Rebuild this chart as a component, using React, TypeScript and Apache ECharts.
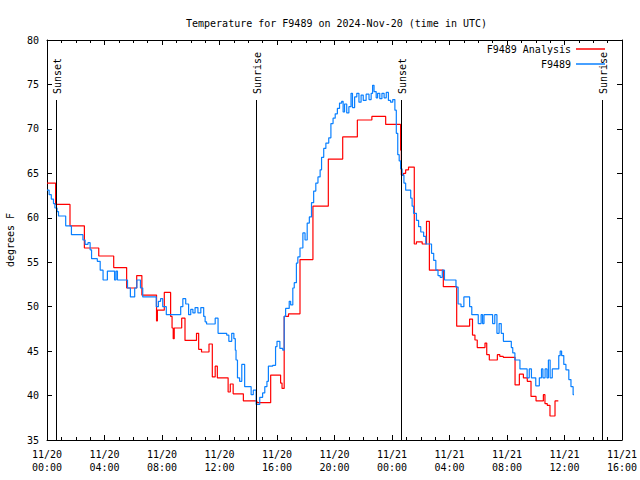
import React, { useEffect, useRef } from "react";
import * as echarts from "echarts";

// hours since 2024-11-20 00:00 UTC, temperature (F)
const analysisHours = [0, 0.6, 1.6, 2.6, 3.6, 4.64, 5.54, 6.24, 6.6, 7.62, 7.68, 8.16, 8.6, 8.7, 8.78, 8.85, 9.37, 9.6, 10.4, 10.55, 10.75, 11.27, 11.5, 11.7, 11.85, 12.6, 12.75, 12.95, 13.66, 14.6, 15.56, 16.25, 16.35, 16.5, 16.8, 17.6, 18.5, 19.57, 20.57, 21.59, 22.6, 23.56, 24.6, 24.65, 24.8, 24.95, 25.15, 25.55, 25.7, 26.1, 26.4, 26.6, 27.57, 28.5, 29.4, 29.6, 29.77, 29.93, 30.47, 30.59, 30.77, 31.33, 31.5, 31.74, 32.56, 32.86, 33.14, 33.41, 33.67, 34.02, 34.53, 34.64, 34.8, 34.99, 35.34, 35.57];
const analysisTemps = [63.9, 61.5, 59.1, 56.6, 55.7, 54.4, 52.1, 53.5, 51.3, 48.4, 49.6, 51.6, 48.9, 47.6, 46.4, 47.6, 48.7, 46.2, 47.0, 45.2, 44.9, 45.8, 42.1, 43.3, 42.0, 40.4, 41.3, 40.2, 39.4, 39.2, 42.3, 41.4, 40.8, 48.9, 49.2, 55.3, 61.3, 66.6, 69.1, 71.0, 71.4, 70.5, 67.6, 64.8, 65.0, 65.4, 65.7, 57.05, 57.3, 57.05, 59.6, 54.1, 52.25, 47.8, 48.6, 46.8, 46.25, 45.4, 45.9, 44.6, 44.0, 44.6, 44.4, 44.3, 41.2, 42.4, 42.0, 41.6, 39.9, 39.4, 40.1, 39.1, 38.9, 37.7, 39.4, 39.4];

const obsHours = [0, 0.15, 0.3, 0.45, 0.55, 0.7, 0.8, 1.3, 1.7, 2.5, 2.65, 2.85, 3.0, 3.1, 3.5, 3.7, 3.9, 4.2, 4.7, 4.8, 4.9, 5.6, 5.8, 6.1, 6.25, 6.5, 6.66, 7.6, 7.75, 7.9, 8.05, 8.3, 9.3, 9.45, 9.65, 9.85, 10.0, 10.15, 10.3, 10.5, 10.7, 10.9, 11.0, 11.1, 11.7, 11.9, 12.5, 12.65, 12.85, 13.0, 13.1, 13.15, 13.25, 13.4, 13.55, 13.75, 14.2, 14.35, 14.55, 14.8, 15.0, 15.15, 15.3, 15.4, 15.7, 15.9, 16.0, 16.2, 16.4, 16.5, 16.6, 16.85, 16.95, 17.1, 17.2, 17.35, 17.45, 17.6, 17.8, 17.95, 18.1, 18.25, 18.4, 18.55, 18.7, 18.85, 19.0, 19.1, 19.25, 19.4, 19.6, 19.75, 19.9, 20.05, 20.2, 20.35, 20.5, 20.6, 20.7, 20.85, 21.0, 21.15, 21.25, 21.4, 21.55, 21.7, 21.85, 22.0, 22.2, 22.4, 22.55, 22.65, 22.75, 22.9, 23.0, 23.15, 23.3, 23.45, 23.6, 23.75, 23.9, 24.05, 24.2, 24.3, 24.4, 24.5, 24.6, 24.7, 24.83, 24.95, 25.3, 25.4, 25.5, 25.7, 25.85, 26.0, 26.2, 26.35, 26.75, 26.9, 27.05, 27.2, 27.35, 27.5, 27.65, 28.45, 28.6, 28.8, 29.0, 29.4, 29.55, 30.0, 30.2, 30.3, 30.4, 31.0, 31.15, 31.3, 31.45, 31.6, 31.75, 32.3, 32.4, 32.55, 32.9, 33.4, 33.55, 33.7, 34.0, 34.25, 34.4, 34.5, 34.65, 34.78, 34.88, 35.0, 35.15, 35.6, 35.7, 35.8, 35.95, 36.1, 36.3, 36.45, 36.6, 36.66];
const obsTemps = [63.1, 62.6, 62.1, 61.6, 61.1, 60.7, 60.2, 59.1, 58.1, 57.5, 57.0, 57.2, 56.4, 55.4, 55.1, 54.1, 53.0, 54.0, 53.0, 54.0, 53.0, 52.1, 51.1, 52.1, 53.0, 52.1, 51.1, 50.0, 50.6, 50.9, 50.0, 49.1, 50.0, 50.9, 50.3, 49.1, 49.7, 49.3, 49.9, 49.3, 49.9, 48.9, 48.3, 48.05, 48.7, 47.0, 46.8, 46.1, 47.0, 46.4, 45.1, 44.0, 42.0, 41.6, 43.5, 41.0, 40.1, 40.6, 39.0, 39.8, 40.3, 41.0, 41.6, 43.3, 43.4, 45.5, 46.1, 45.3, 45.1, 48.9, 49.8, 50.6, 50.2, 52.1, 52.7, 54.9, 55.6, 56.6, 58.3, 57.5, 59.4, 60.1, 61.7, 63.0, 63.9, 64.6, 65.4, 66.8, 67.8, 68.4, 69.0, 70.6, 71.2, 71.7, 72.3, 72.9, 73.1, 71.9, 72.8, 71.8, 72.5, 74.0, 72.4, 73.6, 74.0, 73.0, 73.8, 73.2, 73.9, 73.3, 74.0, 74.9, 74.2, 73.5, 74.0, 73.4, 74.0, 73.5, 74.1, 73.2, 73.0, 73.3, 72.1, 69.5, 67.1, 66.4, 65.5, 64.8, 63.9, 63.1, 62.2, 61.3, 60.5, 59.7, 59.0, 58.4, 57.9, 57.05, 56.0, 55.2, 54.1, 53.5, 53.3, 54.1, 53.0, 52.2, 50.3, 50.0, 51.1, 50.0, 49.1, 48.1, 49.1, 48.1, 49.1, 48.1, 49.1, 47.0, 48.1, 47.0, 46.1, 45.4, 44.8, 44.0, 43.0, 42.0, 43.0, 42.0, 41.1, 42.0, 43.0, 42.0, 43.0, 42.0, 44.0, 42.0, 43.0, 44.5, 45.0, 44.5, 43.5, 42.9, 41.8, 41.0, 40.1, 40.1];

const sunHours = [0.63, 14.56, 24.63, 38.66];
const sunNames = ["Sunset", "Sunrise", "Sunset", "Sunrise"];
const SUN_TOP = 73.25;

const X_MIN = 0;
const X_MAX = 40;
const Y_MIN = 35;
const Y_MAX = 80;

const FONT = "DejaVu Sans Mono";

function fmtTime(v: number): string {
  const day = 20 + Math.floor(v / 24);
  const hr = Math.round(v % 24);
  return `11/${day}\n${String(hr).padStart(2, "0")}:00`;
}

export default function App() {
  const ref = useRef<HTMLDivElement>(null);
  useEffect(() => {
    if (!ref.current) return;
    const chart = echarts.init(ref.current, null, { renderer: "svg" });
    const analysis = analysisHours.map((h, i) => [h, analysisTemps[i]]);
    const obs = obsHours.map((h, i) => [h, obsTemps[i]]);
    const axisLine = { show: true, onZero: false, lineStyle: { color: "#000", width: 1 } };
    const xCommon = {
      type: "value" as const,
      min: X_MIN,
      max: X_MAX,
      interval: 4,
      axisLine,
      axisTick: { show: true, inside: true, length: 5, lineStyle: { color: "#000" } },
      minorTick: { show: true, splitNumber: 4, length: 3, lineStyle: { color: "#000" } },
      splitLine: { show: false },
      minorSplitLine: { show: false },
    };
    const yCommon = {
      type: "value" as const,
      min: Y_MIN,
      max: Y_MAX,
      interval: 5,
      axisLine,
      axisTick: { show: true, inside: true, length: 5, lineStyle: { color: "#000" } },
      splitLine: { show: false },
    };
    chart.setOption({
      animation: false,
      backgroundColor: "#fff",
      title: {
        text: "Temperature for F9489 on 2024-Nov-20 (time in UTC)",
        left: 181,
        top: 13,
        textStyle: { fontFamily: FONT, fontSize: 10, fontWeight: "normal", color: "#000" },
      },
      legend: {
        orient: "vertical",
        right: 30,
        top: 38,
        align: "right",
        icon: "rect",
        itemWidth: 29,
        itemHeight: 1.5,
        itemGap: 3,
        textStyle: { fontFamily: FONT, fontSize: 10, color: "#000", lineHeight: 12 },
        data: ["F9489 Analysis", "F9489"],
      },
      grid: { left: 47, right: 18, top: 40, bottom: 40, outerBoundsMode: "none", containLabel: false },
      xAxis: [
        {
          ...xCommon,
          position: "bottom",
          axisLabel: {
            show: true,
            fontFamily: FONT,
            fontSize: 10,
            color: "#000",
            lineHeight: 13,
            margin: 8,
            formatter: fmtTime,
          },
        },
        { ...xCommon, position: "top", axisLabel: { show: false } },
      ],
      yAxis: [
        {
          ...yCommon,
          position: "left",
          name: "degrees F",
          nameLocation: "middle",
          nameRotate: 90,
          nameGap: 32,
          nameTextStyle: { fontFamily: FONT, fontSize: 10, color: "#000" },
          axisLabel: { show: true, fontFamily: FONT, fontSize: 10, color: "#000", margin: 8 },
        },
        { ...yCommon, position: "right", axisLabel: { show: false } },
      ],
      series: [
        {
          name: "F9489 Analysis",
          type: "line",
          step: "end",
          data: analysis,
          symbol: "none",
          color: "#ff0000",
          lineStyle: { color: "#ff0000", width: 1.2 },
          markLine: {
            silent: true,
            symbol: "none",
            label: { show: false },
            lineStyle: { color: "#000", width: 1, type: "solid" },
            data: sunHours.map((h) => [{ coord: [h, SUN_TOP] }, { coord: [h, Y_MIN] }]),
          },
        },
        {
          name: "F9489",
          type: "line",
          step: "end",
          data: obs,
          symbol: "none",
          color: "#0a80ff",
          lineStyle: { color: "#0a80ff", width: 1.2 },
        },
      ],
    });
    const texts = sunHours.map((h, i) => {
      const p = chart.convertToPixel({ xAxisIndex: 0, yAxisIndex: 0 }, [h, SUN_TOP]) as number[];
      return {
        type: "text",
        x: p[0] + 1,
        y: p[1] - 6,
        rotation: Math.PI / 2,
        silent: true,
        style: {
          text: sunNames[i],
          fontFamily: FONT,
          fontSize: 10,
          fill: "#000",
          align: "left",
          verticalAlign: "middle",
        },
      };
    });
    chart.setOption({ graphic: texts });
    return () => chart.dispose();
  }, []);
  return (
    <div
      ref={ref}
      style={{ position: "fixed", left: 0, top: 0, width: 640, height: 480, background: "#fff" }}
    />
  );
}
